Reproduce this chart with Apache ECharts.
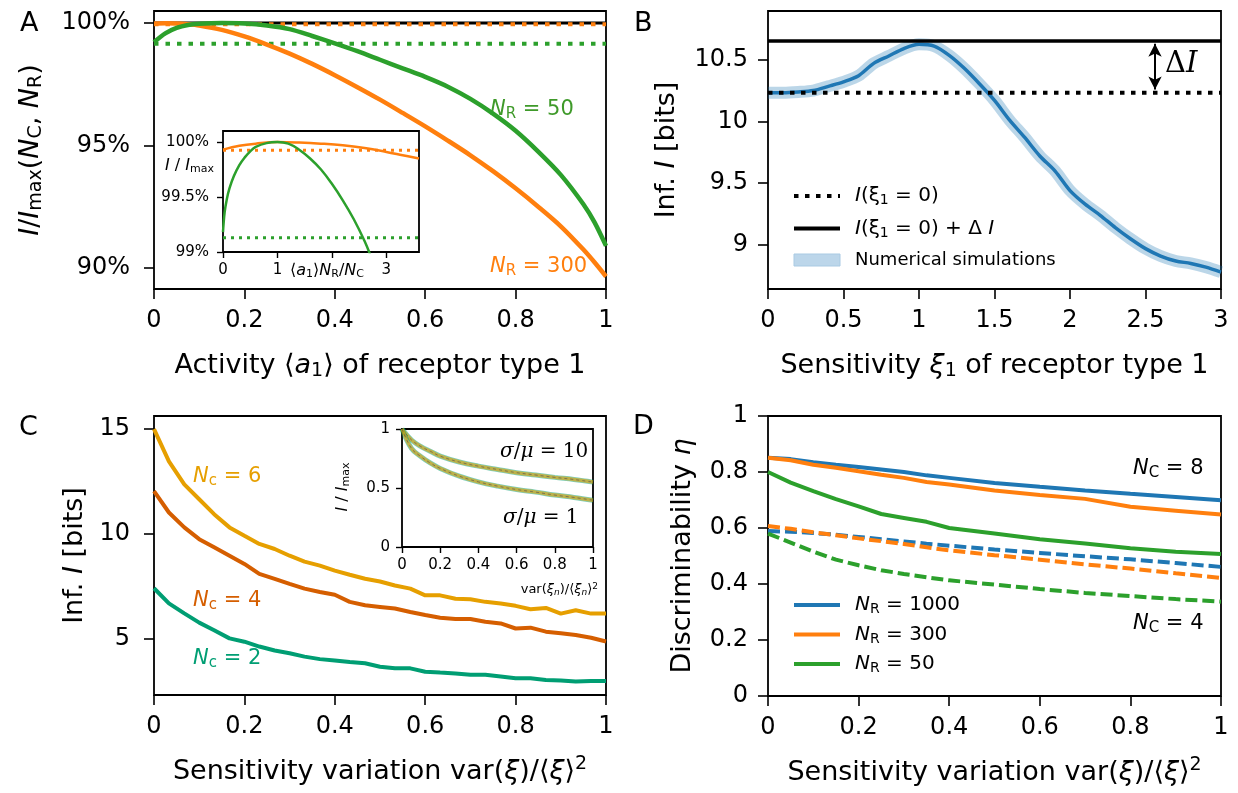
<!DOCTYPE html>
<html>
<head>
<meta charset="utf-8">
<title>receptor information figure</title>
<script src="https://cdn.jsdelivr.net/npm/echarts@6.0.0/dist/echarts.min.js"></script>
<style>
    html, body { margin: 0; padding: 0; background: #fff; }
    #chart { width: 1238px; height: 793px; }
</style>
</head>
<body>
<div id="chart"></div>
<script>
// ---------- panel A : I/Imax vs activity ----------
var activityA = [0, 0.025, 0.05, 0.075, 0.1, 0.15, 0.2, 0.25, 0.3, 0.35, 0.4, 0.45, 0.5, 0.55, 0.6, 0.65, 0.7, 0.75, 0.8, 0.85, 0.9, 0.95, 0.975, 1.0]
var infoNR50 = [99.22, 99.58, 99.8, 99.92, 99.97, 100.0, 99.98, 99.9, 99.75, 99.47, 99.17, 98.85, 98.5, 98.15, 97.8, 97.4, 96.9, 96.3, 95.6, 94.75, 93.8, 92.6, 91.85, 90.9]
var infoNR300 = [99.98, 99.99, 99.98, 99.95, 99.9, 99.72, 99.45, 99.12, 98.75, 98.33, 97.87, 97.38, 96.87, 96.33, 95.78, 95.2, 94.6, 93.95, 93.25, 92.5, 91.7, 90.75, 90.22, 89.65]
var levelsA = [100, 99.95, 99.15]          // full, NR=300 at a1=0, NR=50 at a1=0

// inset of A
var scaledInsetNR50 = [0, 0.03, 0.07, 0.12, 0.2, 0.3, 0.4, 0.5, 0.6, 0.8, 1.0, 1.2, 1.4, 1.6, 1.8, 2.0, 2.2, 2.4, 2.6, 2.7]
var insetNR50 = [99.18, 99.36, 99.48, 99.58, 99.69, 99.79, 99.86, 99.915, 99.955, 99.99, 100.0, 99.985, 99.93, 99.85, 99.75, 99.62, 99.47, 99.3, 99.1, 98.98]
var scaledInsetNR300 = [0, 0.3, 0.6, 1.0, 1.4, 1.8, 2.2, 2.6, 3.0, 3.3, 3.6]
var insetNR300 = [99.93, 99.965, 99.985, 100.0, 99.995, 99.985, 99.97, 99.945, 99.91, 99.88, 99.85]
var levelsInsetA = [99.925, 99.13]

// ---------- panel B : information vs sensitivity ----------
var xiB = [0, 0.1, 0.2, 0.3, 0.4, 0.5, 0.6, 0.7, 0.8, 0.9, 1.0, 1.1, 1.2, 1.3, 1.4, 1.5, 1.6, 1.7, 1.8, 1.9, 2.0, 2.1, 2.2, 2.3, 2.4, 2.5, 2.6, 2.7, 2.8, 2.9, 3.0]
var infoSimB = [10.232, 10.232, 10.238, 10.25, 10.284, 10.32, 10.37, 10.47, 10.53, 10.59, 10.624, 10.61, 10.535, 10.43, 10.305, 10.17, 10.01, 9.87, 9.72, 9.6, 9.44, 9.33, 9.24, 9.14, 9.05, 8.97, 8.91, 8.87, 8.85, 8.82, 8.78]
var levelsB = [10.233, 10.651]             // I(xi1=0), I(xi1=0)+dI
var arrowB = [2.563, 10.628, 10.258]       // x, top, bottom

// ---------- panel C : information vs sensitivity variation ----------
var varC = [0, 0.033, 0.067, 0.1, 0.133, 0.167, 0.2, 0.233, 0.267, 0.3, 0.333, 0.367, 0.4, 0.433, 0.467, 0.5, 0.533, 0.567, 0.6, 0.633, 0.667, 0.7, 0.733, 0.767, 0.8, 0.833, 0.867, 0.9, 0.933, 0.967, 1.0]
var infoNc6 = [15.0, 13.47, 12.37, 11.66, 10.95, 10.32, 9.92, 9.53, 9.29, 8.97, 8.69, 8.5, 8.26, 8.06, 7.87, 7.74, 7.55, 7.4, 7.08, 7.08, 6.92, 6.89, 6.77, 6.69, 6.58, 6.42, 6.48, 6.21, 6.37, 6.21, 6.21]
var infoNc4 = [12.05, 11.03, 10.32, 9.76, 9.37, 8.97, 8.58, 8.1, 7.87, 7.63, 7.4, 7.24, 7.11, 6.77, 6.61, 6.53, 6.45, 6.29, 6.14, 6.01, 5.95, 5.95, 5.82, 5.74, 5.5, 5.54, 5.35, 5.27, 5.19, 5.06, 4.88]
var infoNc2 = [7.42, 6.7, 6.22, 5.78, 5.42, 5.03, 4.87, 4.64, 4.45, 4.32, 4.16, 4.04, 3.97, 3.9, 3.84, 3.68, 3.6, 3.6, 3.44, 3.4, 3.36, 3.29, 3.29, 3.21, 3.13, 3.13, 3.05, 3.02, 2.97, 3.0, 3.0]

// inset of C
var varInsetC = [0, 0.05, 0.1, 0.15, 0.2, 0.3, 0.4, 0.5, 0.6, 0.7, 0.8, 0.9, 1.0]
var ratioSigma10 = [1.0, 0.907, 0.85, 0.81, 0.77, 0.72, 0.685, 0.657, 0.63, 0.61, 0.59, 0.572, 0.55]
var ratioSigma1 = [1.0, 0.835, 0.765, 0.71, 0.666, 0.6, 0.552, 0.516, 0.487, 0.465, 0.44, 0.42, 0.397]

// ---------- panel D : discriminability ----------
var varD = [0, 0.05, 0.1, 0.15, 0.2, 0.25, 0.3, 0.35, 0.4, 0.5, 0.6, 0.7, 0.8, 0.9, 1.0]
var etaNc8NR1000 = [0.851, 0.846, 0.835, 0.826, 0.818, 0.809, 0.8, 0.788, 0.779, 0.761, 0.747, 0.734, 0.722, 0.711, 0.699]
var etaNc8NR300 = [0.851, 0.842, 0.826, 0.815, 0.803, 0.79, 0.779, 0.764, 0.755, 0.734, 0.718, 0.704, 0.676, 0.662, 0.648]
var etaNc8NR50 = [0.8, 0.762, 0.732, 0.703, 0.677, 0.65, 0.636, 0.622, 0.6, 0.58, 0.56, 0.545, 0.528, 0.515, 0.507]
var etaNc4NR1000 = [0.589, 0.587, 0.582, 0.576, 0.568, 0.56, 0.552, 0.544, 0.537, 0.523, 0.511, 0.499, 0.488, 0.475, 0.461]
var etaNc4NR300 = [0.607, 0.597, 0.585, 0.574, 0.563, 0.553, 0.543, 0.531, 0.52, 0.503, 0.487, 0.47, 0.455, 0.438, 0.422]
var etaNc4NR50 = [0.58, 0.548, 0.516, 0.487, 0.467, 0.449, 0.436, 0.424, 0.413, 0.398, 0.382, 0.368, 0.357, 0.346, 0.337]

var BLUE = '#1f77b4', ORANGE = '#ff7f0e', GREEN = '#2ca02c'
var YELLOW = '#e69f00', VERMIL = '#d55e00', TEAL = '#009e73'
var SANS = '"DejaVu Sans"', SERIF = '"DejaVu Serif"'

function pairs(xs, ys) {
    return xs.map(function (x, i) { return [x, ys[i]] })
}
function hline(y, x0, x1) {
    return [[x0, y], [x1, y]]
}

// rich text styles (echarts components) for italic / sub / sup
function makeRich(fs) {
    var s = Math.round(fs * 0.7)
    return {
        it: {fontStyle: 'italic'},
        sub: {fontSize: s, padding: [Math.round(fs * 0.45), 0, 0, 0]},
        isub: {fontSize: s, fontStyle: 'italic', padding: [Math.round(fs * 0.45), 0, 0, 0]},
        sup: {fontSize: s, padding: [0, 0, Math.round(fs * 0.5), 0]}
    }
}
// same thing for raw graphic text, which only reads the font shorthand
function makeRichG(fs, fam) {
    var s = Math.round(fs * 0.7)
    return {
        it: {font: 'italic ' + fs + 'px ' + fam},
        sub: {font: s + 'px ' + fam, padding: [Math.round(fs * 0.45), 0, 0, 0]},
        isub: {font: 'italic ' + s + 'px ' + fam, padding: [Math.round(fs * 0.45), 0, 0, 0]},
        sup: {font: s + 'px ' + fam, padding: [0, 0, Math.round(fs * 0.5), 0]}
    }
}

function line(name, gi, data, color, width, extra) {
    var s = {
        name: name, type: 'line', xAxisIndex: gi, yAxisIndex: gi,
        data: data, symbol: 'none', showSymbol: false, silent: true,
        itemStyle: {color: color},
        lineStyle: {color: color, width: width}
    }
    for (var k in extra) {
        if (k === 'lineStyle') {
            for (var j in extra.lineStyle) s.lineStyle[j] = extra.lineStyle[j]
        } else s[k] = extra[k]
    }
    return s
}

function xAxisOf(gi, min, max, opts) {
    var a = {
        gridIndex: gi, type: 'value', min: min, max: max,
        axisLine: {show: false},
        axisTick: {show: true, length: 10, lineStyle: {color: '#000', width: 1.6}},
        axisLabel: {color: '#000', fontSize: 24, margin: 20},
        splitLine: {show: false}
    }
    for (var k in opts) a[k] = opts[k]
    return a
}
function yAxisOf(gi, min, max, opts) {
    var a = xAxisOf(gi, min, max, {})
    a.axisLabel.margin = 22
    for (var k in opts) a[k] = opts[k]
    return a
}

// plain text annotation placed in pixels
function txt(text, x, y, fs, color, extra, fam) {
    fam = fam || SANS
    var st = {text: text, font: fs + 'px ' + fam, fill: color || '#000',
        align: 'left', verticalAlign: 'middle', rich: makeRichG(fs, fam)}
    for (var k in extra) st[k] = extra[k]
    return {type: 'text', x: x, y: y, silent: true, style: st}
}

var nameStyle = {fontSize: 27, color: '#000', rich: makeRich(27)}
var insetTick = {show: true, length: 6, lineStyle: {color: '#000', width: 1.4}}

initFigure()

function initFigure() {
    var chart = echarts.init(document.getElementById('chart'), null, {renderer: 'canvas'})

    var gridBase = {show: true, borderColor: '#000', borderWidth: 1.8, backgroundColor: '#fff', containLabel: false}
    var grids = [
        {left: 154, top: 11, width: 452, height: 278},   // A
        {left: 768, top: 11, width: 453, height: 278},   // B
        {left: 154, top: 416, width: 452, height: 279},  // C
        {left: 768, top: 416, width: 453, height: 280},  // D
        {left: 223, top: 131, width: 196, height: 121},  // inset A
        {left: 402, top: 429, width: 191, height: 118}   // inset C
    ].map(function (g) { return Object.assign({}, gridBase, g) })

    var xAxes = [
        xAxisOf(0, 0, 1, {interval: 0.2, name: 'Activity ⟨{it|a}{sub|1}⟩ of receptor type 1',
            nameLocation: 'middle', nameGap: 61, nameTextStyle: nameStyle}),
        xAxisOf(1, 0, 3, {interval: 0.5, name: 'Sensitivity {it|ξ}{sub|1} of receptor type 1',
            nameLocation: 'middle', nameGap: 61, nameTextStyle: nameStyle}),
        xAxisOf(2, 0, 1, {interval: 0.2, name: 'Sensitivity variation var({it|ξ})/⟨{it|ξ}⟩{sup|2}',
            nameLocation: 'middle', nameGap: 60, nameTextStyle: nameStyle}),
        xAxisOf(3, 0, 1, {interval: 0.2, name: 'Sensitivity variation var({it|ξ})/⟨{it|ξ}⟩{sup|2}',
            nameLocation: 'middle', nameGap: 60, nameTextStyle: nameStyle}),
        xAxisOf(4, 0, 3.6, {
            interval: 1, axisTick: insetTick,
            axisLabel: {color: '#000', fontSize: 15, margin: 11, showMaxLabel: false,
                formatter: function (v) { return (v === 2 || v > 3) ? '' : String(v) }}
        }),
        xAxisOf(5, 0, 1, {
            interval: 0.2, axisTick: insetTick,
            axisLabel: {color: '#000', fontSize: 15, margin: 11}
        })
    ]

    var yAxes = [
        yAxisOf(0, 89.14, 100.49, {
            axisTick: {show: true, length: 10, lineStyle: {color: '#000', width: 1.6}, customValues: [90, 95, 100]},
            axisLabel: {color: '#000', fontSize: 24, margin: 24, customValues: [90, 95, 100], formatter: '{value}%'},
            name: '{it|I}/{it|I}{sub|max}({it|N}{sub|C}, {it|N}{sub|R})', nameLocation: 'middle',
            nameRotate: 90, nameGap: 108, nameTextStyle: nameStyle
        }),
        yAxisOf(1, 8.643, 10.894, {
            axisTick: {show: true, length: 10, lineStyle: {color: '#000', width: 1.6}, customValues: [9, 9.5, 10, 10.5]},
            axisLabel: {color: '#000', fontSize: 24, margin: 20, customValues: [9, 9.5, 10, 10.5]},
            name: 'Inf. {it|I} [bits]', nameLocation: 'middle',
            nameRotate: 90, nameGap: 88, nameTextStyle: nameStyle
        }),
        yAxisOf(2, 2.33, 15.63, {
            axisTick: {show: true, length: 10, lineStyle: {color: '#000', width: 1.6}, customValues: [5, 10, 15]},
            axisLabel: {color: '#000', fontSize: 24, margin: 24, customValues: [5, 10, 15]},
            name: 'Inf. {it|I} [bits]', nameLocation: 'middle',
            nameRotate: 90, nameGap: 66, nameTextStyle: nameStyle
        }),
        yAxisOf(3, 0, 1, {
            interval: 0.2, axisLabel: {color: '#000', fontSize: 24, margin: 20},
            name: 'Discriminability {it|η}', nameLocation: 'middle',
            nameRotate: 90, nameGap: 72, nameTextStyle: nameStyle
        }),
        yAxisOf(4, 99, 100.1, {
            axisTick: Object.assign({customValues: [99, 99.5, 100]}, insetTick),
            axisLabel: {color: '#000', fontSize: 15, margin: 14, customValues: [99, 99.5, 100], formatter: '{value}%'}
        }),
        yAxisOf(5, 0, 1, {
            axisTick: Object.assign({customValues: [0, 0.5, 1]}, insetTick),
            axisLabel: {color: '#000', fontSize: 15, margin: 12, customValues: [0, 0.5, 1]}
        })
    ]

    var dotted = {type: [4.5, 7], cap: 'butt'}
    var series = [
        // A
        line('A-full', 0, hline(levelsA[0], 0, 1), '#000', 3),
        line('A-dot300', 0, hline(levelsA[1], 0, 1), ORANGE, 4, {lineStyle: dotted}),
        line('A-dot50', 0, hline(levelsA[2], 0, 1), GREEN, 4, {lineStyle: dotted}),
        line('A-NR300', 0, pairs(activityA, infoNR300), ORANGE, 4.5, {smooth: 0.3}),
        line('A-NR50', 0, pairs(activityA, infoNR50), GREEN, 4.5, {smooth: 0.3}),
        // inset A
        line('Ai-dot300', 4, hline(levelsInsetA[0], 0, 3.6), ORANGE, 3, {lineStyle: {type: [3, 5], cap: 'butt'}}),
        line('Ai-dot50', 4, hline(levelsInsetA[1], 0, 3.6), GREEN, 3, {lineStyle: {type: [3, 5], cap: 'butt'}}),
        line('Ai-NR300', 4, pairs(scaledInsetNR300, insetNR300), ORANGE, 2.5, {smooth: 0.4}),
        line('Ai-NR50', 4, pairs(scaledInsetNR50, insetNR50), GREEN, 2.5, {smooth: 0.4}),
        // B
        line('sim', 1, pairs(xiB, infoSimB), 'rgba(31,119,180,0.3)', 12, {smooth: 0.3}),
        line('simMean', 1, pairs(xiB, infoSimB), BLUE, 3.5, {smooth: 0.3}),
        line('I0', 1, hline(levelsB[0], 0, 3), '#000', 4, {lineStyle: {type: [4.5, 6.5], cap: 'butt'}}),
        line('I0dI', 1, hline(levelsB[1], 0, 3), '#000', 3.5, {
            markLine: {
                silent: true, animation: false, symbol: ['arrow', 'arrow'], symbolSize: [10, 13],
                lineStyle: {color: '#000', width: 2, type: 'solid'}, label: {show: false},
                data: [[{coord: [arrowB[0], arrowB[1]]}, {coord: [arrowB[0], arrowB[2]]}]]
            }
        }),
        // C
        line('C6', 2, pairs(varC, infoNc6), YELLOW, 4),
        line('C4', 2, pairs(varC, infoNc4), VERMIL, 4),
        line('C2', 2, pairs(varC, infoNc2), TEAL, 4),
        // inset C
        line('Ci-10a', 5, pairs(varInsetC, ratioSigma10), 'rgba(0,158,115,0.5)', 5, {smooth: 0.4}),
        line('Ci-10b', 5, pairs(varInsetC, ratioSigma10), 'rgba(230,159,0,0.6)', 3.5, {smooth: 0.4}),
        line('Ci-10c', 5, pairs(varInsetC, ratioSigma10), 'rgba(80,80,80,0.6)', 1, {smooth: 0.4, lineStyle: {type: [3, 3]}}),
        line('Ci-1a', 5, pairs(varInsetC, ratioSigma1), 'rgba(0,158,115,0.5)', 5, {smooth: 0.4}),
        line('Ci-1b', 5, pairs(varInsetC, ratioSigma1), 'rgba(230,159,0,0.6)', 3.5, {smooth: 0.4}),
        line('Ci-1c', 5, pairs(varInsetC, ratioSigma1), 'rgba(80,80,80,0.6)', 1, {smooth: 0.4, lineStyle: {type: [3, 3]}}),
        // D
        line('R1000', 3, pairs(varD, etaNc8NR1000), BLUE, 4),
        line('R300', 3, pairs(varD, etaNc8NR300), ORANGE, 4),
        line('R50', 3, pairs(varD, etaNc8NR50), GREEN, 4),
        line('D4-1000', 3, pairs(varD, etaNc4NR1000), BLUE, 4, {lineStyle: {type: [12, 5]}}),
        line('D4-300', 3, pairs(varD, etaNc4NR300), ORANGE, 4, {lineStyle: {type: [12, 5]}}),
        line('D4-50', 3, pairs(varD, etaNc4NR50), GREEN, 4, {lineStyle: {type: [12, 5]}})
    ]

    var legendNames = {
        'I0': '{it|I}(ξ{sub|1} = 0)',
        'I0dI': '{it|I}(ξ{sub|1} = 0) + Δ {it|I}',
        'sim': '{small|Numerical simulations}',
        'R1000': '{it|N}{sub|R} = 1000',
        'R300': '{it|N}{sub|R} = 300',
        'R50': '{it|N}{sub|R} = 50'
    }
    var richLegend = makeRich(20)
    richLegend.small = {fontSize: 18}
    var legendBase = {
        orient: 'vertical', selectedMode: false, itemWidth: 46, itemHeight: 12,
        itemStyle: {opacity: 0},
        lineStyle: {width: 4},
        formatter: function (n) { return legendNames[n] },
        textStyle: {fontSize: 20, color: '#000', padding: [0, 0, 0, 10], rich: richLegend}
    }

    var option = {
        animation: false,
        backgroundColor: '#fff',
        textStyle: {fontFamily: 'DejaVu Sans', color: '#000'},
        grid: grids,
        xAxis: xAxes,
        yAxis: yAxes,
        legend: [
            Object.assign({}, legendBase, {
                left: 787, top: 181, itemGap: 11,
                data: [{name: 'I0'}, {name: 'I0dI'},
                    {name: 'sim', icon: 'rect', itemStyle: {opacity: 1, color: '#bcd6ea', borderColor: '#a9cae3', borderWidth: 1}}]
            }),
            Object.assign({}, legendBase, {
                left: 787, top: 590, itemGap: 8,
                data: [{name: 'R1000'}, {name: 'R300'}, {name: 'R50'}]
            })
        ],
        graphic: {elements: [
            // panel letters
            txt('A', 20, 24, 27), txt('B', 634, 24, 27), txt('C', 19, 428, 27), txt('D', 633, 427, 27),
            // A annotations
            txt('{it|N}{sub|R} = 50', 490, 110, 21, '#3f9a2a'),
            txt('{it|N}{sub|R} = 300', 490, 267, 21, ORANGE),
            txt('{it|I} / {it|I}{sub|max}', 214, 166, 16, '#000', {align: 'right'}),
            txt('⟨{it|a}{sub|1}⟩{it|N}{sub|R}/{it|N}{sub|C}', 290, 271, 16),
            // B annotation
            txt('Δ{it|I}', 1165, 64, 29, '#000', null, SERIF),
            // C annotations
            txt('{it|N}{sub|c} = 6', 193, 477, 21, YELLOW),
            txt('{it|N}{sub|c} = 4', 193, 601, 21, VERMIL),
            txt('{it|N}{sub|c} = 2', 193, 659, 21, TEAL),
            txt('{it|σ}/{it|μ} = 10', 500, 452, 20, '#000', null, SERIF),
            txt('{it|σ}/{it|μ} = 1', 503, 518, 20, '#000', null, SERIF),
            Object.assign(txt('{it|I} / {it|I}{sub|max}', 343, 487, 16, '#000', {align: 'center'}), {rotation: Math.PI / 2}),
            txt('var({it|ξ}{isub|n})/⟨{it|ξ}{isub|n}⟩{sup|2}', 598, 590, 13, '#000', {align: 'right'}),
            // D annotations
            txt('{it|N}{sub|C} = 8', 1133, 469, 21),
            txt('{it|N}{sub|C} = 4', 1133, 624, 21)
        ]},
        series: series
    }

    chart.setOption(option)
}
</script>
</body>
</html>
